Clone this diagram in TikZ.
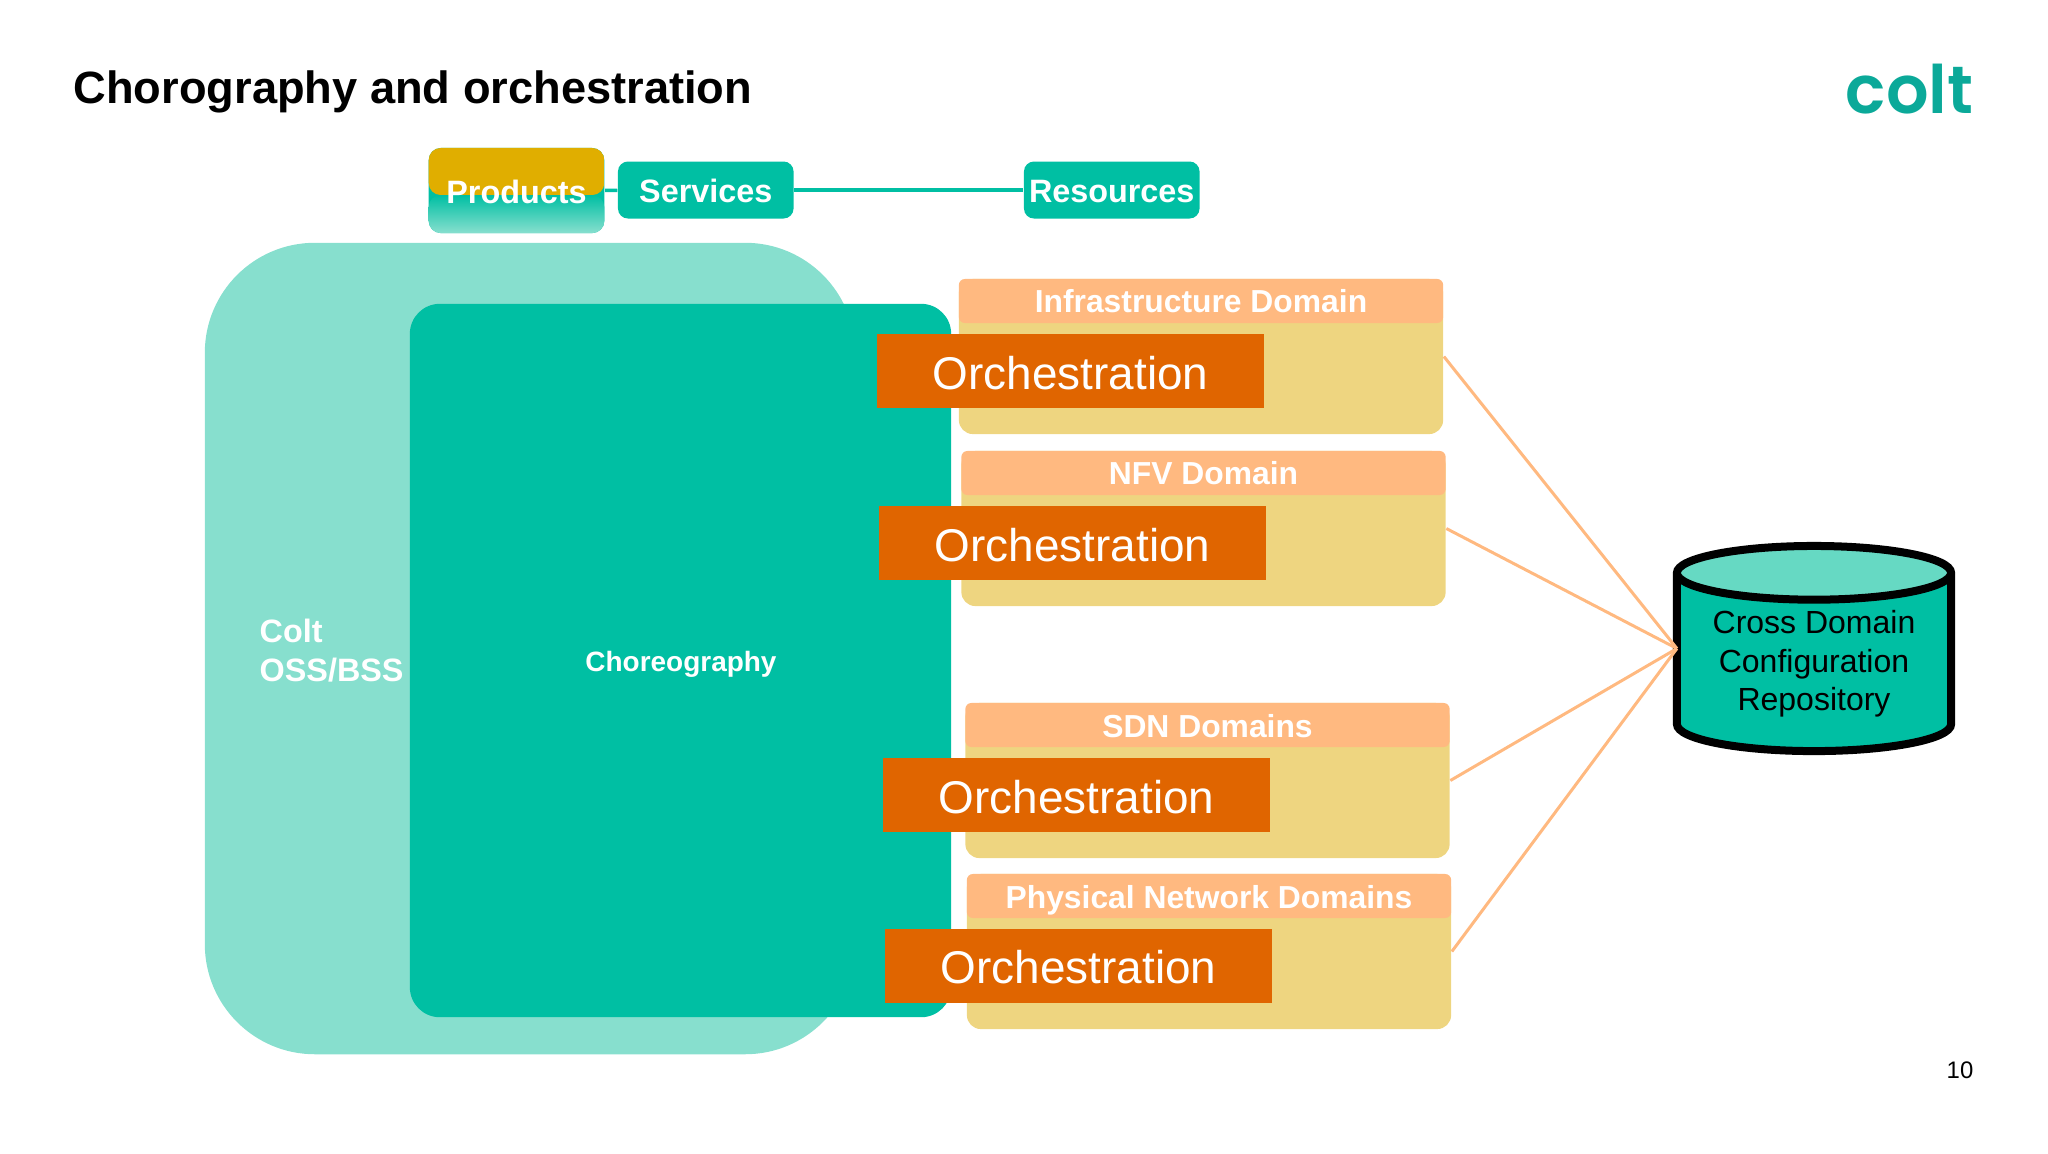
\documentclass[tikz,border=0pt]{standalone}
\usepackage{fontspec}
\setmainfont{Liberation Sans}
\newfontfamily\logofont{Poppins SemiBold}
\usetikzlibrary{shapes.geometric}
\definecolor{tealdark}{HTML}{00BFA3}
\definecolor{teallight}{HTML}{87DFCE}
\definecolor{tealtop}{HTML}{66D9C3}
\definecolor{goldtop}{HTML}{E0AE00}
\definecolor{domainbody}{HTML}{EED580}
\definecolor{domainhead}{HTML}{FFB980}
\definecolor{orchfill}{HTML}{E06500}
\definecolor{logoteal}{HTML}{0BA999}
\tikzset{
  levelbox/.style={fill=tealdark, rounded corners=0.1cm, minimum width=1.755cm, minimum height=0.57cm, inner sep=0pt, text=white, text height=0.3cm, text depth=0.05cm, font=\fontsize{9.2}{11}\selectfont\bfseries},
  domainbox/.style={fill=domainbody, rounded corners=0.14cm, minimum width=4.84cm, minimum height=1.55cm, inner sep=0pt},
  headbox/.style={fill=domainhead, rounded corners=0.06cm, minimum width=4.84cm, minimum height=0.44cm, inner sep=0pt, anchor=north, text=white, text height=0.3cm, text depth=0.06cm, font=\fontsize{9.05}{11}\selectfont\bfseries},
  orchbox/.style={fill=orchfill, minimum width=3.87cm, minimum height=0.74cm, inner sep=0pt, text=white, text height=0.36cm, text depth=0cm, font=\fontsize{13.05}{15}\selectfont},
  tealline/.style={draw=tealdark, line width=0.035cm},
  feedline/.style={draw=domainhead, line width=0.03cm}
}
\begin{document}
\begin{tikzpicture}[x=0.01cm, y=-0.01cm]
\useasboundingbox (0,0) rectangle (2048,1153);
\node[anchor=west, inner sep=0pt, font=\fontsize{12.86}{15}\selectfont\bfseries] (title) at (73,92) {Chorography and orchestration};
\node[anchor=east, inner sep=0pt, text=logoteal, font=\fontsize{19}{24}\logofont] (logo) at (1974,89) {colt};
\node[inner sep=0pt, font=\fontsize{6.8}{8}\selectfont] (pagenum) at (1960,1070) {10};

\node[fill=teallight, rounded corners=1.1cm, minimum width=6.5cm, minimum height=8.11cm] (oss) at (530,648.5) {};
\node[fill=tealdark, rounded corners=0.3cm, minimum width=5.41cm, minimum height=7.13cm] (choreo) at (680.5,660.5) {};
\node[anchor=west, align=left, inner sep=0pt, text=white, font=\fontsize{9.2}{11.1}\selectfont\bfseries] (osslabel) at (259,651) {Colt\\OSS/BSS};
\node[inner sep=0pt, text=white, font=\fontsize{7.95}{10}\selectfont\bfseries] (choreolabel) at (681,664) {Choreography};

\node[levelbox, minimum height=0.85cm, rounded corners=0.12cm, path picture={
  \fill[goldtop] (path picture bounding box.north west) rectangle ([yshift=-0.045cm]path picture bounding box.east);
  \shade[top color=tealdark, bottom color=teallight] ([yshift=-0.045cm]path picture bounding box.west) rectangle (path picture bounding box.south east);
}] (products) at (516.5,190.5) {Products};
\node[levelbox] (services) at (705.75,190) {Services};
\node[levelbox] (resources) at (1111.75,190) {Resources};
\draw[tealline] (products) -- (services);
\draw[tealline] (services) -- (resources);

\node[domainbox] (infra) at (1201,356.5) {};
\node[headbox] (infrahead) at (infra.north) {Infrastructure Domain};
\node[orchbox] (infraorch) at (1070.5,371) {Orchestration};
\node[domainbox] (nfv) at (1203.5,528.5) {};
\node[headbox] (nfvhead) at (nfv.north) {NFV Domain};
\node[orchbox] (nfvorch) at (1072.5,543) {Orchestration};
\node[domainbox] (sdn) at (1207.5,780.5) {};
\node[headbox] (sdnhead) at (sdn.north) {SDN Domains};
\node[orchbox] (sdnorch) at (1076.5,795) {Orchestration};
\node[domainbox] (phys) at (1209,951.5) {};
\node[headbox] (physhead) at (phys.north) {Physical Network Domains};
\node[orchbox] (physorch) at (1078.5,965.5) {Orchestration};

\node[cylinder, shape border rotate=90, aspect=0.265, draw=black, line width=0.08cm, outer sep=0pt, inner sep=0pt,
  cylinder uses custom fill, cylinder body fill=tealdark, cylinder end fill=tealtop,
  minimum width=2.74cm, minimum height=2.05cm, align=center, anchor=shape center,
  font=\fontsize{9.1}{10.95}\selectfont] (repo) at (1814,648.5) {Cross Domain\\Configuration\\Repository};
\coordinate (repohub) at (repo.west |- repo.shape center);
\draw[feedline] (infra.east) -- (repohub);
\draw[feedline] (nfv.east) -- (repohub);
\draw[feedline] (sdn.east) -- (repohub);
\draw[feedline] (phys.east) -- (repohub);
\end{tikzpicture}
\end{document}
